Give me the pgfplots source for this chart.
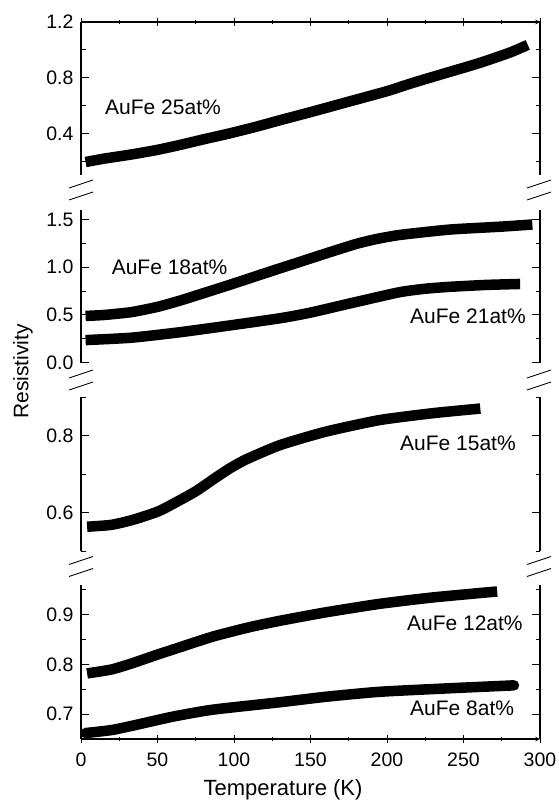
\documentclass[border=0pt]{standalone}
\usepackage{fontspec}
\setmainfont{Liberation Sans}
\usepackage{pgfplots}
\pgfplotsset{compat=1.18}

\pgfplotsset{
  panel/.style={
    scale only axis, width=459pt, xmin=0, xmax=300,
    axis y line=box, axis line style={-, line width=1.1pt},
    tick align=inside, tick style={line width=1pt, black},
    major tick length=8pt, minor tick length=4.5pt,
    xtick={0,50,...,300}, minor xtick={25,75,...,275},
    /pgf/number format/assume math mode=true,
    tick label style={font=\fontsize{19.5}{22}\selectfont},
    yticklabel style={/pgf/number format/.cd, fixed, fixed zerofill, precision=1, /tikz/.cd, xshift=-4pt},
    xticklabel style={yshift=-6pt},
    clip=false, anchor=north west,
  },
}
\tikzset{
  dataline/.style={black, line width=10.5pt, line join=round, smooth, tension=0.35},
  curvelabel/.style={anchor=west, inner sep=0pt, font=\fontsize{21}{24}\selectfont},
}

\begin{document}
\begin{tikzpicture}[x=1pt,y=1pt]
\useasboundingbox (0,0) rectangle (558,-802);

% Panel 1: AuFe 25at%
\begin{axis}[panel, at={(81pt,-22pt)}, height=153pt,
  ymin=0.105, ymax=1.2, ytick={0.4,0.8,1.2}, minor ytick={0.2,0.6,1.0},
  axis x line=top, xticklabels={}]
\addplot[dataline] coordinates {
(3,0.198) (15,0.222) (33,0.252) (50,0.285) (65,0.321) (80,0.360) (98,0.405)
(115,0.452) (131,0.500) (150,0.555) (174,0.627) (200,0.705) (217,0.765)
(240,0.840) (260,0.905) (280,0.980) (292,1.036)};
\node[curvelabel] at (axis cs:15.7,0.593) {AuFe 25at\%};
\end{axis}

% Panel 2: AuFe 18at% and 21at%
\begin{axis}[panel, at={(81pt,-210pt)}, height=152.7pt,
  ymin=0, ymax=1.6, ytick={0,0.5,1.0,1.5}, minor ytick={0.25,0.75,1.25},
  axis x line=none]
\addplot[dataline] coordinates {
(3,0.490) (15,0.500) (33,0.530) (50,0.585) (65,0.652) (80,0.728) (98,0.820)
(115,0.910) (131,0.994) (143,1.056) (163,1.160) (180,1.245) (192,1.292)
(208,1.338) (241,1.395) (274,1.425) (295,1.448)};
\addplot[dataline] coordinates {
(3,0.237) (33,0.262) (65,0.320) (98,0.392) (131,0.468) (150,0.525) (176,0.622)
(208,0.738) (225,0.775) (241,0.795) (265,0.815) (287,0.825)};
\node[curvelabel] at (axis cs:20,1.0) {AuFe 18at\%};
\node[curvelabel] at (axis cs:215,0.488) {AuFe 21at\%};
\end{axis}

% Panel 3: AuFe 15at%
\begin{axis}[panel, at={(81pt,-397pt)}, height=154pt,
  ymin=0.5, ymax=0.9, ytick={0.6,0.8}, minor ytick={0.5,0.7,0.9},
  axis x line=none]
\addplot[dataline] coordinates {
(4,0.563) (20,0.568) (34,0.581) (50,0.602) (60,0.622) (75,0.655) (86,0.685)
(97,0.714) (108,0.738) (130,0.775) (160,0.810) (195,0.840) (230,0.858) (261,0.870)};
\node[curvelabel] at (axis cs:208.5,0.779) {AuFe 15at\%};
\end{axis}

% Panel 4: AuFe 12at% and 8at%
\begin{axis}[panel, at={(81pt,-585pt)}, height=154pt,
  ymin=0.65, ymax=0.96, ytick={0.7,0.8,0.9}, minor ytick={0.75,0.85,0.95},
  axis x line=bottom]
\addplot[dataline] coordinates {
(4,0.782) (20,0.790) (34,0.803) (50,0.820) (60,0.830) (86,0.856) (110,0.875)
(130,0.888) (160,0.905) (195,0.922) (230,0.935) (272,0.947)};
\addplot[dataline, line cap=round] coordinates {
(3,0.662) (20,0.668) (34,0.677) (60,0.695) (86,0.709) (130,0.724) (160,0.735)
(195,0.745) (240,0.752) (283,0.758)};
\node[curvelabel] at (axis cs:213,0.882) {AuFe 12at\%};
\node[curvelabel] at (axis cs:215,0.711) {AuFe 8at\%};
\end{axis}

% axis break marks
\foreach \c in {190,380,566.5}{
  \foreach \d in {-6,6}{
    \draw[line width=0.9pt] (69,{-(\c+\d+4)}) -- (93,{-(\c+\d-4)});
    \draw[line width=0.9pt] (527,{-(\c+\d+4)}) -- (551,{-(\c+\d-4)});
  }
}

% axis labels
\node[rotate=90, font=\fontsize{21}{24}\selectfont] at (23,-371.5) {Resistivity};
\node[font=\fontsize{22}{25}\selectfont] at (283,-790) {Temperature (K)};
\end{tikzpicture}
\end{document}
